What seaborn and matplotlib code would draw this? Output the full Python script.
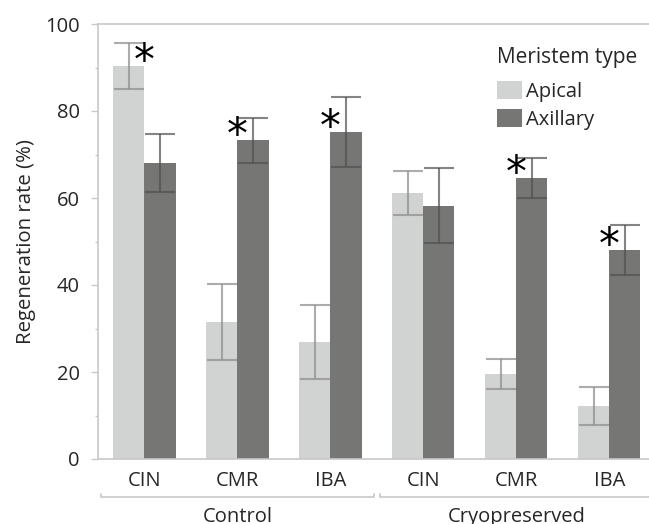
import matplotlib
matplotlib.use("Agg")
import matplotlib.pyplot as plt
import matplotlib.transforms as mtransforms
import seaborn as sns
import pandas as pd
import numpy as np

# ---- data ----
groups = ["Control", "Control", "Control", "Cryopreserved", "Cryopreserved", "Cryopreserved"]
treatments = ["CIN", "CMR", "IBA", "CIN", "CMR", "IBA"]
apical = [90.3, 31.5, 26.9, 61.1, 19.5, 12.2]
apical_err = [5.3, 8.7, 8.4, 5.1, 3.4, 4.3]
axillary = [68.0, 73.3, 75.2, 58.2, 64.5, 48.0]
axillary_err = [6.6, 5.2, 8.0, 8.6, 4.6, 5.7]
# which bar carries the significance asterisk ("Apical", "Axillary" or None)
signif = ["Apical", "Axillary", "Axillary", None, "Axillary", "Axillary"]
hue_levels = ["Apical", "Axillary"]
group_names = ["Control", "Cryopreserved"]

keys = [f"{g}|{t}" for g, t in zip(groups, treatments)]
df = pd.DataFrame({
    "key": keys * 2,
    "type": ["Apical"] * 6 + ["Axillary"] * 6,
    "rate": apical + axillary,
    "err": apical_err + axillary_err,
})

sns.set_style("white")
plt.rcParams["font.family"] = ["Open Sans", "DejaVu Sans"]

fig = plt.figure(figsize=(6.49, 5.24), dpi=100)
ax = fig.add_axes([98 / 649, 65 / 524, 551 / 649, 435 / 524])

colors = {"Apical": "#d1d3d2", "Axillary": "#767675"}
sns.barplot(data=df, x="key", y="rate", hue="type", order=keys, hue_order=hue_levels,
            palette=colors, width=0.667, gap=0, errorbar=None, saturation=1,
            linewidth=0, ax=ax)

err_styles = {"Apical": ("#909090", 0.75), "Axillary": ("#505050", 0.7)}
bar_tops = {}
for cont, lvl in zip(ax.containers, hue_levels):
    sub = df[df["type"] == lvl].set_index("key").loc[keys]
    xs = [p.get_x() + p.get_width() / 2 for p in cont.patches]
    col, a = err_styles[lvl]
    ax.errorbar(xs, sub["rate"].values, yerr=sub["err"].values, fmt="none",
                ecolor=col, alpha=a, elinewidth=1.5, capsize=10.5, capthick=1.5, zorder=3)
    bar_tops[lvl] = sub["rate"].values

# asterisks
for i, s in enumerate(signif):
    if s is None:
        continue
    y = bar_tops[s][i]
    ax.text(i, y + 1.0, "*", ha="center", va="center", fontsize=30,
            family=["DejaVu Sans"], color="black", zorder=4)

ax.set_xlim(-0.5, 5.425)
ax.set_ylim(0, 100)
ax.set_yticks([0, 20, 40, 60, 80, 100])
ax.set_yticks([10, 30, 50, 70, 90], minor=True)
ax.set_xticks(range(6))
ax.set_xticklabels(treatments)
ax.set_xlabel("")
ax.set_ylabel("Regeneration rate (%)")
ax.yaxis.label.set_fontsize(14.7)
ax.yaxis.labelpad = 7

spine_col = "#c8c8c8"
for side in ["left", "bottom", "top"]:
    ax.spines[side].set_visible(True)
    ax.spines[side].set_color(spine_col)
    ax.spines[side].set_linewidth(1.2)
ax.spines["right"].set_visible(False)
ax.tick_params(axis="y", which="major", length=5, width=1, color=spine_col,
               labelsize=14.5, pad=8, left=True)
ax.tick_params(axis="y", which="minor", length=2.5, width=1, color=spine_col, left=True)
ax.tick_params(axis="x", length=0, labelsize=14.5, pad=9)

# group brackets
trans = mtransforms.blended_transform_factory(ax.transData, ax.transAxes)
yb = -0.0874
for (x0, x1), name in zip([(-0.47, 2.47), (2.53, 5.47)], group_names):
    ax.plot([x0, x0, x1, x1], [yb + 0.006, yb, yb, yb + 0.006], transform=trans,
            color=spine_col, lw=1.2, clip_on=False)
    ax.text((x0 + x1) / 2 if name == "Control" else 4.0, yb - 0.022, name,
            transform=trans, ha="center", va="top", fontsize=14.5, clip_on=False)

# legend (title drawn as separate text to match its spacing)
fig.text(497 / 649, 1 - 58 / 524, "Meristem type", ha="left", va="center", fontsize=15)
leg = ax.legend(loc="upper left",
                bbox_to_anchor=(497 / 649, 1 - 81 / 524), bbox_transform=fig.transFigure,
                frameon=False, fontsize=14.5, handlelength=1.25,
                handleheight=1.0, handletextpad=0.2, labelspacing=0.35,
                borderpad=0, borderaxespad=0)

fig.savefig("out.png", dpi=100)
